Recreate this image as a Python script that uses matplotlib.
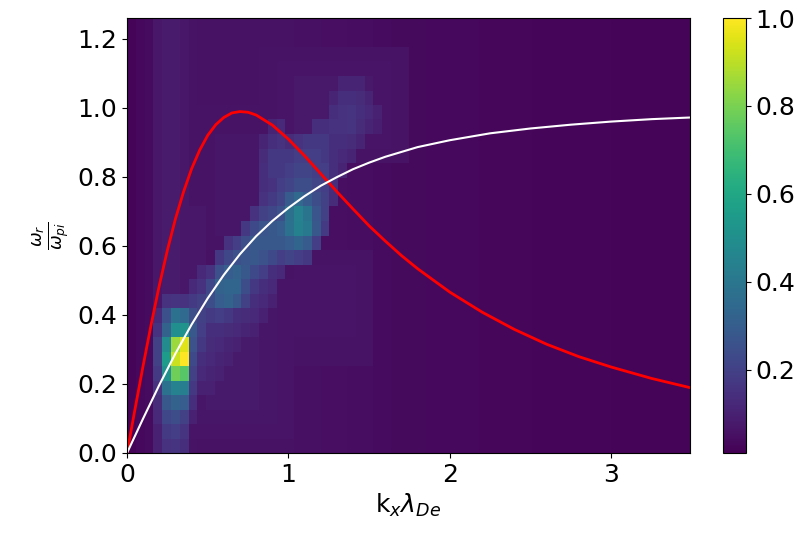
import numpy as np
import matplotlib
matplotlib.use("Agg")
import matplotlib.pyplot as plt

# grid of the spectrum (cell sizes)
K_STEP = 0.0545
W_STEP = 0.042
N_COLS = 64
N_ROWS = 30

# faint vertical stripe level of every k column
col_background = [
    0.02, 0.03, 0.04, 0.07, 0.08, 0.08, 0.07, 0.06, 0.055, 0.055,
    0.055, 0.055, 0.055, 0.055, 0.055, 0.055, 0.055, 0.055, 0.055, 0.052,
    0.05, 0.05, 0.048, 0.046, 0.045, 0.044, 0.042, 0.041, 0.04, 0.038,
    0.037, 0.036, 0.035, 0.034, 0.033, 0.032, 0.031, 0.03, 0.03, 0.03,
    0.028, 0.028, 0.028, 0.028, 0.027, 0.026, 0.025, 0.025, 0.025, 0.025,
    0.024, 0.023, 0.022, 0.022, 0.022, 0.021, 0.02, 0.02, 0.02, 0.02,
    0.02, 0.02, 0.02, 0.02,
]

# soft nested glow around the band: (first col, last col, first row, last row, value)
glow_blocks = [
    (7, 18, 1, 11, 0.061), (8, 16, 2, 10, 0.068), (9, 14, 3, 9, 0.078),
    (17, 27, 6, 13, 0.058), (19, 25, 8, 12, 0.064),
    (8, 16, 14, 23, 0.06), (10, 14, 15, 21, 0.067),
    (15, 31, 20, 27, 0.058), (17, 29, 21, 26, 0.064), (19, 27, 22, 25, 0.072),
    (7, 8, 11, 16, 0.07),
]

# brighter cells: (column, row, value)
hot_cells = [
    # low-k cluster
    (3, 0, 0.10), (3, 1, 0.10), (3, 2, 0.12), (3, 3, 0.13), (3, 4, 0.15),
    (3, 5, 0.18), (3, 6, 0.20), (3, 7, 0.20), (3, 8, 0.15), (3, 9, 0.12),
    (4, 0, 0.15), (4, 1, 0.18), (4, 2, 0.22), (4, 3, 0.28), (4, 4, 0.38),
    (4, 5, 0.50), (4, 6, 0.55), (4, 7, 0.48), (4, 8, 0.32), (4, 9, 0.25),
    (4, 10, 0.15),
    (5, 0, 0.16), (5, 1, 0.19), (5, 2, 0.24), (5, 3, 0.32), (5, 4, 0.45),
    (5, 5, 0.78), (5, 6, 0.92), (5, 7, 0.85), (5, 8, 0.50), (5, 9, 0.38),
    (5, 10, 0.16),
    (6, 0, 0.14), (6, 1, 0.16), (6, 2, 0.2), (6, 3, 0.3), (6, 4, 0.43),
    (6, 5, 0.74), (6, 6, 1.00), (6, 7, 0.95), (6, 8, 0.52), (6, 9, 0.35),
    (6, 10, 0.15),
    (7, 2, 0.10), (7, 3, 0.14), (7, 4, 0.17), (7, 5, 0.2), (7, 6, 0.23),
    (7, 7, 0.26), (7, 8, 0.28), (7, 9, 0.24), (7, 10, 0.18), (7, 11, 0.12),
    (8, 4, 0.10), (8, 5, 0.12), (8, 6, 0.14), (8, 7, 0.17), (8, 8, 0.19),
    (8, 9, 0.20), (8, 10, 0.20), (8, 11, 0.15), (8, 12, 0.12),
    # middle band
    (9, 8, 0.14), (9, 9, 0.18), (9, 10, 0.24), (9, 11, 0.22), (9, 12, 0.15),
    (10, 9, 0.19), (10, 10, 0.3), (10, 11, 0.32), (10, 12, 0.25), (10, 13, 0.17),
    (11, 9, 0.17), (11, 10, 0.32), (11, 11, 0.33), (11, 12, 0.30), (11, 13, 0.22),
    (11, 14, 0.15),
    (12, 9, 0.14), (12, 10, 0.28), (12, 11, 0.33), (12, 12, 0.32), (12, 13, 0.25),
    (12, 14, 0.19),
    (13, 10, 0.2), (13, 11, 0.24), (13, 12, 0.28), (13, 13, 0.27), (13, 14, 0.24),
    (13, 15, 0.17),
    (14, 10, 0.14), (14, 11, 0.17), (14, 12, 0.23), (14, 13, 0.28), (14, 14, 0.28),
    (14, 15, 0.23), (14, 16, 0.15),
    (15, 11, 0.14), (15, 12, 0.19), (15, 13, 0.26), (15, 14, 0.28), (15, 15, 0.27),
    (15, 16, 0.2), (15, 17, 0.15), (15, 18, 0.14), (15, 19, 0.14), (15, 20, 0.13),
    (15, 21, 0.11),
    (16, 12, 0.14), (16, 13, 0.23), (16, 14, 0.28), (16, 15, 0.28), (16, 16, 0.22),
    (16, 17, 0.18), (16, 18, 0.15), (16, 19, 0.17), (16, 20, 0.17), (16, 21, 0.14),
    (16, 22, 0.11),
    (17, 12, 0.12), (17, 13, 0.19), (17, 14, 0.28), (17, 15, 0.3), (17, 16, 0.25),
    (17, 17, 0.21), (17, 18, 0.19), (17, 19, 0.17), (17, 20, 0.17), (17, 21, 0.15),
    (17, 22, 0.12),
    (18, 13, 0.21), (18, 14, 0.3), (18, 15, 0.38), (18, 16, 0.37), (18, 17, 0.29),
    (18, 18, 0.21), (18, 19, 0.19), (18, 20, 0.17), (18, 21, 0.13),
    (19, 13, 0.19), (19, 14, 0.33), (19, 15, 0.44), (19, 16, 0.45), (19, 17, 0.34),
    (19, 18, 0.24), (19, 19, 0.21), (19, 20, 0.19), (19, 21, 0.15),
    (20, 13, 0.17), (20, 14, 0.29), (20, 15, 0.41), (20, 16, 0.39), (20, 17, 0.29),
    (20, 18, 0.24), (20, 19, 0.21), (20, 20, 0.19), (20, 21, 0.17),
    (21, 14, 0.19), (21, 15, 0.28), (21, 16, 0.27), (21, 17, 0.24), (21, 18, 0.21),
    (21, 19, 0.19), (21, 20, 0.19), (21, 21, 0.17), (21, 22, 0.14),
    (22, 15, 0.18), (22, 16, 0.2), (22, 17, 0.2), (22, 18, 0.19), (22, 19, 0.19),
    (22, 20, 0.17), (22, 21, 0.17), (22, 22, 0.14),
    # upper tail
    (23, 17, 0.13), (23, 18, 0.14), (23, 19, 0.14), (23, 20, 0.14), (23, 21, 0.14),
    (23, 22, 0.15), (23, 23, 0.14), (23, 24, 0.11),
    (24, 19, 0.11), (24, 20, 0.12), (24, 21, 0.14), (24, 22, 0.15), (24, 23, 0.15),
    (24, 24, 0.14), (24, 25, 0.11),
    (25, 20, 0.11), (25, 21, 0.13), (25, 22, 0.16), (25, 23, 0.16), (25, 24, 0.14),
    (25, 25, 0.11),
    (26, 21, 0.11), (26, 22, 0.13), (26, 23, 0.14), (26, 24, 0.13), (26, 25, 0.11),
    (27, 22, 0.11), (27, 23, 0.12), (27, 24, 0.11),
    (28, 22, 0.095), (28, 23, 0.1),
    # diffuse glow under the band
    (9, 4, 0.1), (9, 5, 0.11), (9, 6, 0.12), (9, 7, 0.13),
    (10, 5, 0.1), (10, 6, 0.11), (10, 7, 0.12), (10, 8, 0.14),
    (11, 6, 0.1), (11, 7, 0.11), (11, 8, 0.13),
    (12, 7, 0.1), (12, 8, 0.12),
    (13, 8, 0.11), (13, 9, 0.13), (14, 8, 0.1), (14, 9, 0.12),
    (15, 9, 0.1), (15, 10, 0.12), (16, 10, 0.1), (16, 11, 0.12),
]

# curves, values
k_white = [0, 0.1, 0.2, 0.3, 0.4, 0.5, 0.6, 0.7, 0.8, 0.9, 1.0, 1.1, 1.2,
           1.3, 1.4, 1.5, 1.6, 1.8, 2.0, 2.25, 2.5, 2.75, 3.0, 3.25, 3.5]
w_white = [0, 0.10, 0.197, 0.288, 0.372, 0.448, 0.516, 0.576, 0.628, 0.672,
           0.71, 0.744, 0.774, 0.799, 0.822, 0.841, 0.858, 0.886, 0.906,
           0.926, 0.940, 0.951, 0.960, 0.967, 0.972]

k_red = [0, 0.05, 0.1, 0.15, 0.2, 0.25, 0.3, 0.35, 0.4, 0.45, 0.5, 0.55,
         0.6, 0.65, 0.7, 0.75, 0.8, 0.9, 1.0, 1.1, 1.2, 1.3, 1.4, 1.5, 1.6,
         1.7, 1.8, 2.0, 2.2, 2.4, 2.6, 2.8, 3.0, 3.25, 3.5]
w_red = [0, 0.128, 0.253, 0.373, 0.485, 0.587, 0.678, 0.756, 0.823, 0.877,
         0.920, 0.951, 0.972, 0.985, 0.989, 0.987, 0.979, 0.950, 0.909,
         0.861, 0.809, 0.757, 0.707, 0.658, 0.614, 0.572, 0.534, 0.466,
         0.408, 0.358, 0.315, 0.279, 0.249, 0.216, 0.188]

# build the spectrum
spec = np.tile(np.array(col_background), (N_ROWS, 1))
for c0, c1, r0, r1, v in glow_blocks:
    block = spec[r0:r1 + 1, c0:c1 + 1]
    spec[r0:r1 + 1, c0:c1 + 1] = np.maximum(block, v)
for c, r, v in hot_cells:
    spec[r, c] = max(spec[r, c], v)

k_edges = np.arange(N_COLS + 1) * K_STEP
w_edges = np.arange(N_ROWS + 1) * W_STEP

plt.rcParams["font.size"] = 18

fig = plt.figure(figsize=(8.05, 5.34), dpi=100)
ax = fig.add_axes([127 / 805, 81 / 534, 563 / 805, 435 / 534])
cax = fig.add_axes([723 / 805, 81 / 534, 23 / 805, 435 / 534])

mesh = ax.pcolormesh(k_edges, w_edges, spec, cmap="viridis",
                     vmin=0.01, vmax=1.0, shading="flat")
ax.plot(k_red, w_red, color="red", lw=2)
ax.plot(k_white, w_white, color="white", lw=1.5)

ax.set_xlim(0, N_COLS * K_STEP)
ax.set_ylim(0, N_ROWS * W_STEP)
ax.set_xticks([0, 1, 2, 3])
ax.set_yticks([0.0, 0.2, 0.4, 0.6, 0.8, 1.0, 1.2])
ax.set_xlabel(r"k$_x\lambda_{De}$")
ax.set_ylabel(r"$\frac{\omega_r}{\omega_{pi}}$")

cb = fig.colorbar(mesh, cax=cax)
cb.set_ticks([0.2, 0.4, 0.6, 0.8, 1.0])

fig.savefig("out.png", dpi=100)
